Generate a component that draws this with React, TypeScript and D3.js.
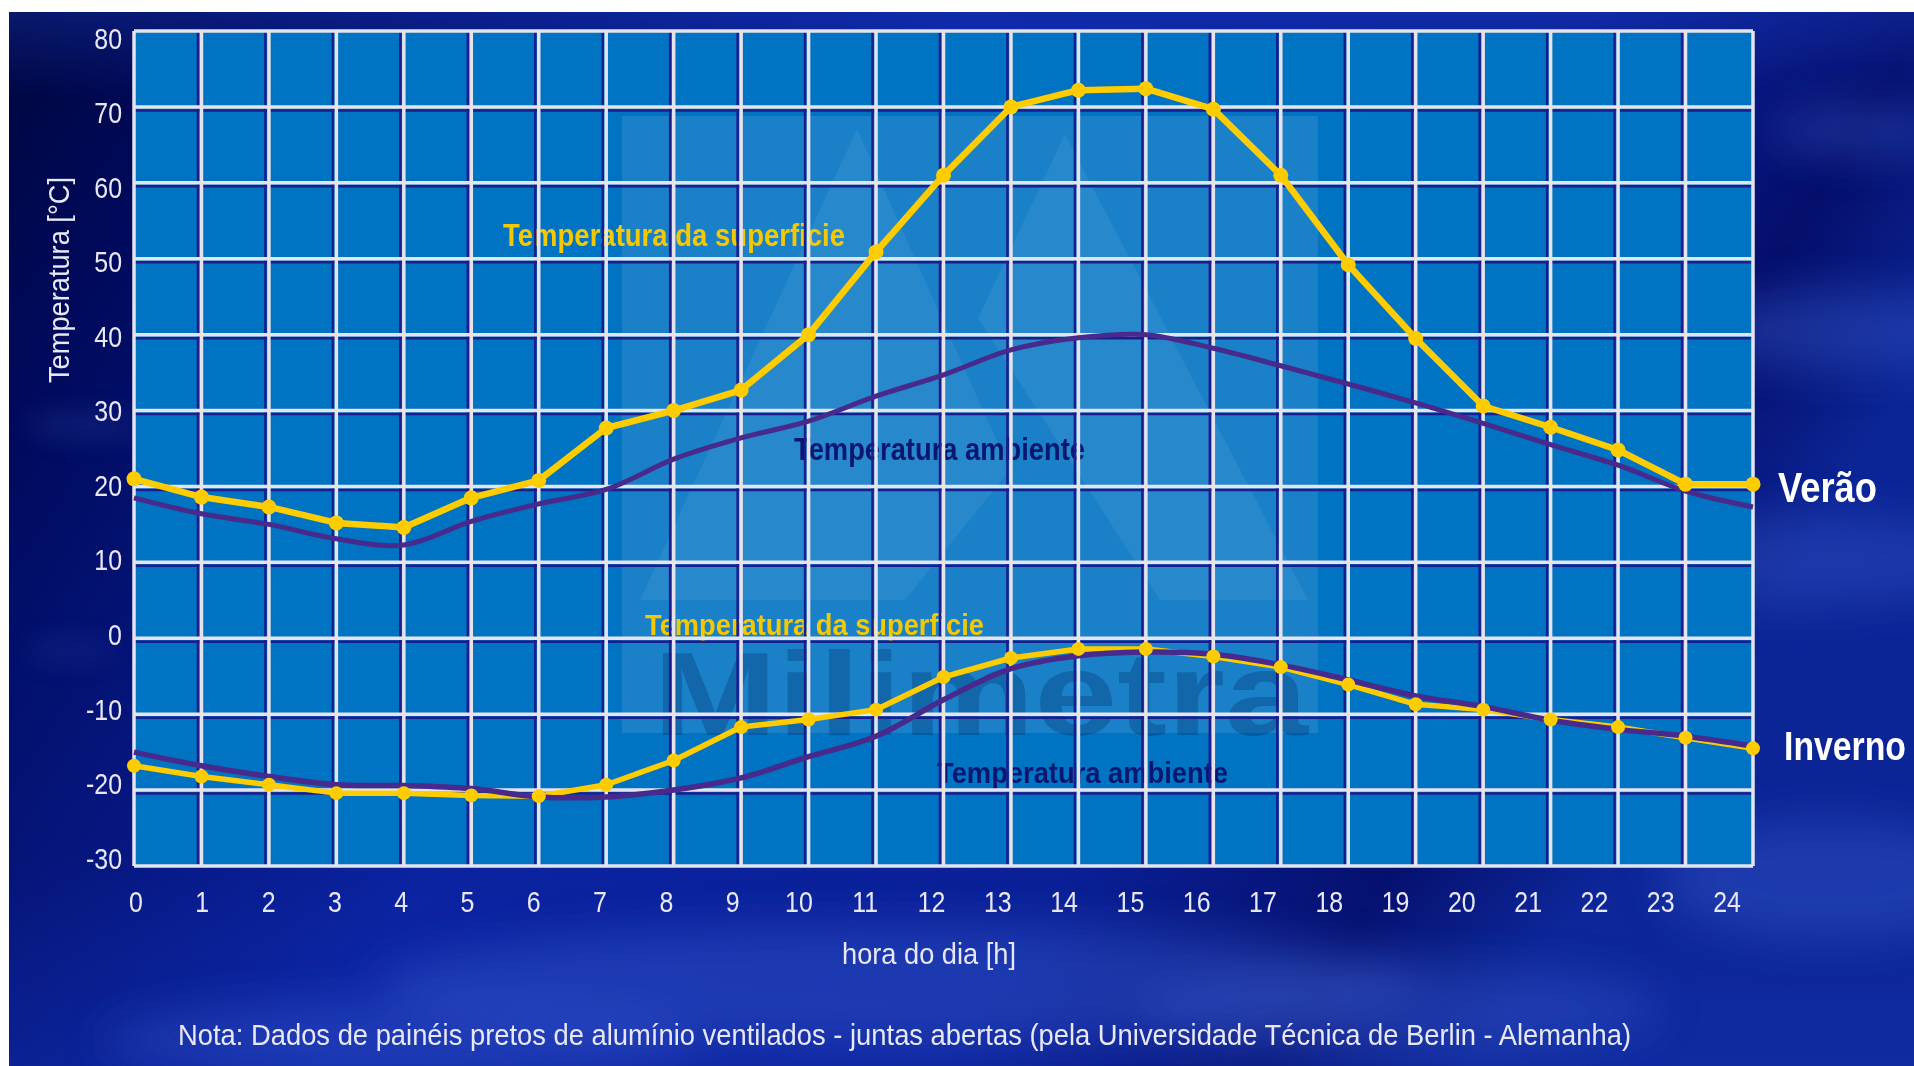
import React from "react";
import * as d3 from "d3";

const hours = [0, 1, 2, 3, 4, 5, 6, 7, 8, 9, 10, 11, 12, 13, 14, 15, 16, 17, 18, 19, 20, 21, 22, 23, 24];
const summerSurface = [21, 18.6, 17.3, 15.2, 14.6, 18.5, 20.8, 27.7, 30, 32.7, 40, 50.9, 61, 70, 72.2, 72.4, 69.7, 61, 49.2, 39.5, 30.6, 27.8, 24.8, 20.3, 20.3];
const summerAmbient = [18.5, 16.4, 15, 13.1, 12.3, 15.4, 17.7, 19.6, 23.6, 26.4, 28.6, 31.9, 34.7, 38, 39.6, 40, 38.2, 35.9, 33.5, 31, 28.3, 25.5, 22.8, 19.4, 17.3];
const winterSurface = [-16.8, -18.2, -19.3, -20.4, -20.4, -20.7, -20.8, -19.3, -16.1, -11.7, -10.7, -9.4, -5.1, -2.6, -1.4, -1.4, -2.4, -3.8, -6.1, -8.7, -9.4, -10.7, -11.7, -13.1, -14.5];
const winterAmbient = [-15, -16.8, -18.2, -19.3, -19.4, -19.8, -20.9, -20.9, -20, -18.4, -15.6, -12.9, -8.1, -4, -2.3, -1.8, -2.1, -3.5, -5.5, -7.6, -9, -10.8, -12, -12.9, -14.2];
const yTicks = [80, 70, 60, 50, 40, 30, 20, 10, 0, -10, -20, -30];
const xTicks = hours;

const W = 1914;
const H = 1066;
const FONT = "'Liberation Sans', Arial, Helvetica, sans-serif";

const x = d3.scaleLinear().domain([0, 24]).range([134, 1753]);
const y = d3.scaleLinear().domain([-30, 80]).range([866, 31]);
// tick labels in the original are drawn on a slightly tighter spacing
const xLab = d3.scaleLinear().domain([0, 24]).range([136, 1727]);
const yLab = d3.scaleLinear().domain([-30, 80]).range([859, 39]);

const YELLOW = "#ffcc00";
const PURPLE = "#482a8c";

function SText(props: any) {
  const { x: tx, y: ty, sx = 1, children, ...rest } = props;
  return (
    <text transform={`translate(${tx},${ty}) scale(${sx},1)`} fontFamily={FONT} {...rest}>
      {children}
    </text>
  );
}

export default function App() {
  const surfLine = d3
    .line<number>()
    .x((_, i) => x(hours[i]))
    .y((v) => y(v))
    .curve(d3.curveLinear);
  const ambLine = d3
    .line<number>()
    .x((_, i) => x(hours[i]))
    .y((v) => y(v))
    .curve(d3.curveCatmullRom.alpha(0.5));

  const innerX = hours.slice(1, -1);
  const innerY = yTicks.slice(1, -1);

  return (
    <svg
      width={W}
      height={H}
      viewBox={`0 0 ${W} ${H}`}
      style={{ position: "absolute", left: 0, top: 0, display: "block" }}
    >
      <defs>
        <linearGradient id="bg" x1="0" y1="0" x2="1" y2="0.35">
          <stop offset="0" stopColor="#00063f" />
          <stop offset="0.12" stopColor="#000a5c" />
          <stop offset="0.45" stopColor="#0b22a0" />
          <stop offset="0.75" stopColor="#0a1f95" />
          <stop offset="0.9" stopColor="#050f6c" />
          <stop offset="1" stopColor="#0c2596" />
        </linearGradient>
        <linearGradient id="bgv" x1="0" y1="0" x2="0" y2="1">
          <stop offset="0" stopColor="#1a3cc0" stopOpacity="0.35" />
          <stop offset="0.08" stopColor="#1a3cc0" stopOpacity="0" />
          <stop offset="0.8" stopColor="#1a3cc0" stopOpacity="0" />
          <stop offset="1" stopColor="#1a3cc0" stopOpacity="0.25" />
        </linearGradient>
        <filter id="blur" x="-50%" y="-50%" width="200%" height="200%">
          <feGaussianBlur stdDeviation="22" />
        </filter>
        <filter id="blur2" x="-50%" y="-50%" width="200%" height="200%">
          <feGaussianBlur stdDeviation="14" />
        </filter>
      </defs>

      {/* page + background */}
      <rect x={0} y={0} width={W} height={H} fill="#ffffff" />
      <rect x={9} y={12} width={W - 9} height={H - 12} fill="url(#bg)" />
      <rect x={9} y={12} width={W - 9} height={H - 12} fill="url(#bgv)" />
      <g filter="url(#blur)" fill="#3f62d6">
        <ellipse cx={900} cy={985} rx={520} ry={60} opacity={0.35} />
        <ellipse cx={1850} cy={330} rx={160} ry={40} opacity={0.35} />
        <ellipse cx={1860} cy={130} rx={90} ry={25} opacity={0.35} />
        <ellipse cx={1800} cy={560} rx={200} ry={45} opacity={0.3} />
        <ellipse cx={1830} cy={880} rx={170} ry={60} opacity={0.35} />
        <ellipse cx={400} cy={1040} rx={300} ry={40} opacity={0.3} />
        <ellipse cx={1400} cy={1010} rx={260} ry={45} opacity={0.3} />
      </g>
      <g filter="url(#blur2)" fill="#5a7ae0">
        <ellipse cx={85} cy={425} rx={60} ry={8} opacity={0.25} />
        <ellipse cx={70} cy={650} rx={45} ry={8} opacity={0.18} />
      </g>

      {/* plot area */}
      <rect x={x(0)} y={y(80)} width={x(24) - x(0)} height={y(-30) - y(80)} fill="#0073c2" />

      {/* watermark */}
      <g>
        <rect x={622} y={116} width={696} height={617} fill="#ffffff" opacity={0.1} />
        <polygon points="640,600 857,129 1010,470 905,600" fill="#ffffff" opacity={0.06} />
        <polygon points="978,318 1065,134 1308,600 1160,600" fill="#ffffff" opacity={0.06} />
        <text
          x={653}
          y={735}
          fontFamily={FONT}
          fontWeight="bold"
          fontSize={118}
          textLength={655}
          lengthAdjust="spacingAndGlyphs"
          fill="#04306e"
          opacity={0.33}
        >
          Milimetra
        </text>
      </g>

      {/* series labels (under the grid) */}
      <g fontFamily={FONT} fontWeight="bold">
        <text x={503} y={246} fontSize={32} textLength={342} lengthAdjust="spacingAndGlyphs" fill="#f5c800">
          Temperatura da superficie
        </text>
        <text x={794} y={460} fontSize={32} textLength={291} lengthAdjust="spacingAndGlyphs" fill="#0a1670">
          Temperatura ambiente
        </text>
        <text x={645} y={635} fontSize={30} textLength={339} lengthAdjust="spacingAndGlyphs" fill="#f5c800">
          Temperatura da superficie
        </text>
        <text x={937} y={783} fontSize={30} textLength={291} lengthAdjust="spacingAndGlyphs" fill="#0a1670">
          Temperatura ambiente
        </text>
      </g>

      {/* grid */}
      <g stroke="#1c1c8c" strokeWidth={2.5}>
        {innerX.map((h) => (
          <line key={"nv" + h} x1={x(h) - 3.5} x2={x(h) - 3.5} y1={y(80)} y2={y(-30)} />
        ))}
        {innerY.map((v) => (
          <line key={"nh" + v} x1={x(0)} x2={x(24)} y1={y(v) + 3.5} y2={y(v) + 3.5} />
        ))}
      </g>
      <g stroke="#e4e4ec" strokeWidth={3.5}>
        {hours.map((h) => (
          <line key={"wv" + h} x1={x(h)} x2={x(h)} y1={y(80)} y2={y(-30)} />
        ))}
        {yTicks.map((v) => (
          <line key={"wh" + v} x1={x(0)} x2={x(24)} y1={y(v)} y2={y(v)} />
        ))}
      </g>

      {/* data */}
      <path d={surfLine(summerSurface) || ""} fill="none" stroke={YELLOW} strokeWidth={6.5} strokeLinejoin="round" />
      <path d={surfLine(winterSurface) || ""} fill="none" stroke={YELLOW} strokeWidth={5.5} strokeLinejoin="round" />
      <path d={ambLine(summerAmbient) || ""} fill="none" stroke={PURPLE} strokeWidth={5} strokeLinejoin="round" />
      <path d={ambLine(winterAmbient) || ""} fill="none" stroke={PURPLE} strokeWidth={5.5} strokeLinejoin="round" />
      <g fill={YELLOW}>
        {summerSurface.map((v, i) => (
          <circle key={"ss" + i} cx={x(hours[i])} cy={y(v)} r={7.5} />
        ))}
        {winterSurface.map((v, i) => (
          <circle key={"ws" + i} cx={x(hours[i])} cy={y(v)} r={7} />
        ))}
      </g>

      {/* axes labels */}
      <g fill="#e8e8f4">
        {yTicks.map((v) => (
          <SText key={"yt" + v} x={122} y={yLab(v)} sx={0.86} fontSize={29} textAnchor="end" dominantBaseline="central">
            {v}
          </SText>
        ))}
        {xTicks.map((h) => (
          <SText key={"xt" + h} x={xLab(h)} y={902} sx={0.86} fontSize={29} textAnchor="middle" dominantBaseline="central">
            {h}
          </SText>
        ))}
        <text
          transform={`translate(69,280) rotate(-90)`}
          fontFamily={FONT}
          fontSize={29}
          textAnchor="middle"
          textLength={206}
          lengthAdjust="spacingAndGlyphs"
        >
          Temperatura [°C]
        </text>
        <text x={842} y={964} fontFamily={FONT} fontSize={29} textLength={174} lengthAdjust="spacingAndGlyphs">
          hora do dia [h]
        </text>
        <text x={178} y={1045} fontFamily={FONT} fontSize={29} textLength={1453} lengthAdjust="spacingAndGlyphs">
          Nota: Dados de painéis pretos de alumínio ventilados - juntas abertas (pela Universidade Técnica de Berlin - Alemanha)
        </text>
      </g>
      <g fill="#ffffff" fontFamily={FONT} fontWeight="bold">
        <text x={1778} y={502} fontSize={43} textLength={99} lengthAdjust="spacingAndGlyphs">
          Verão
        </text>
        <text x={1784} y={760} fontSize={40} textLength={122} lengthAdjust="spacingAndGlyphs">
          Inverno
        </text>
      </g>
    </svg>
  );
}
